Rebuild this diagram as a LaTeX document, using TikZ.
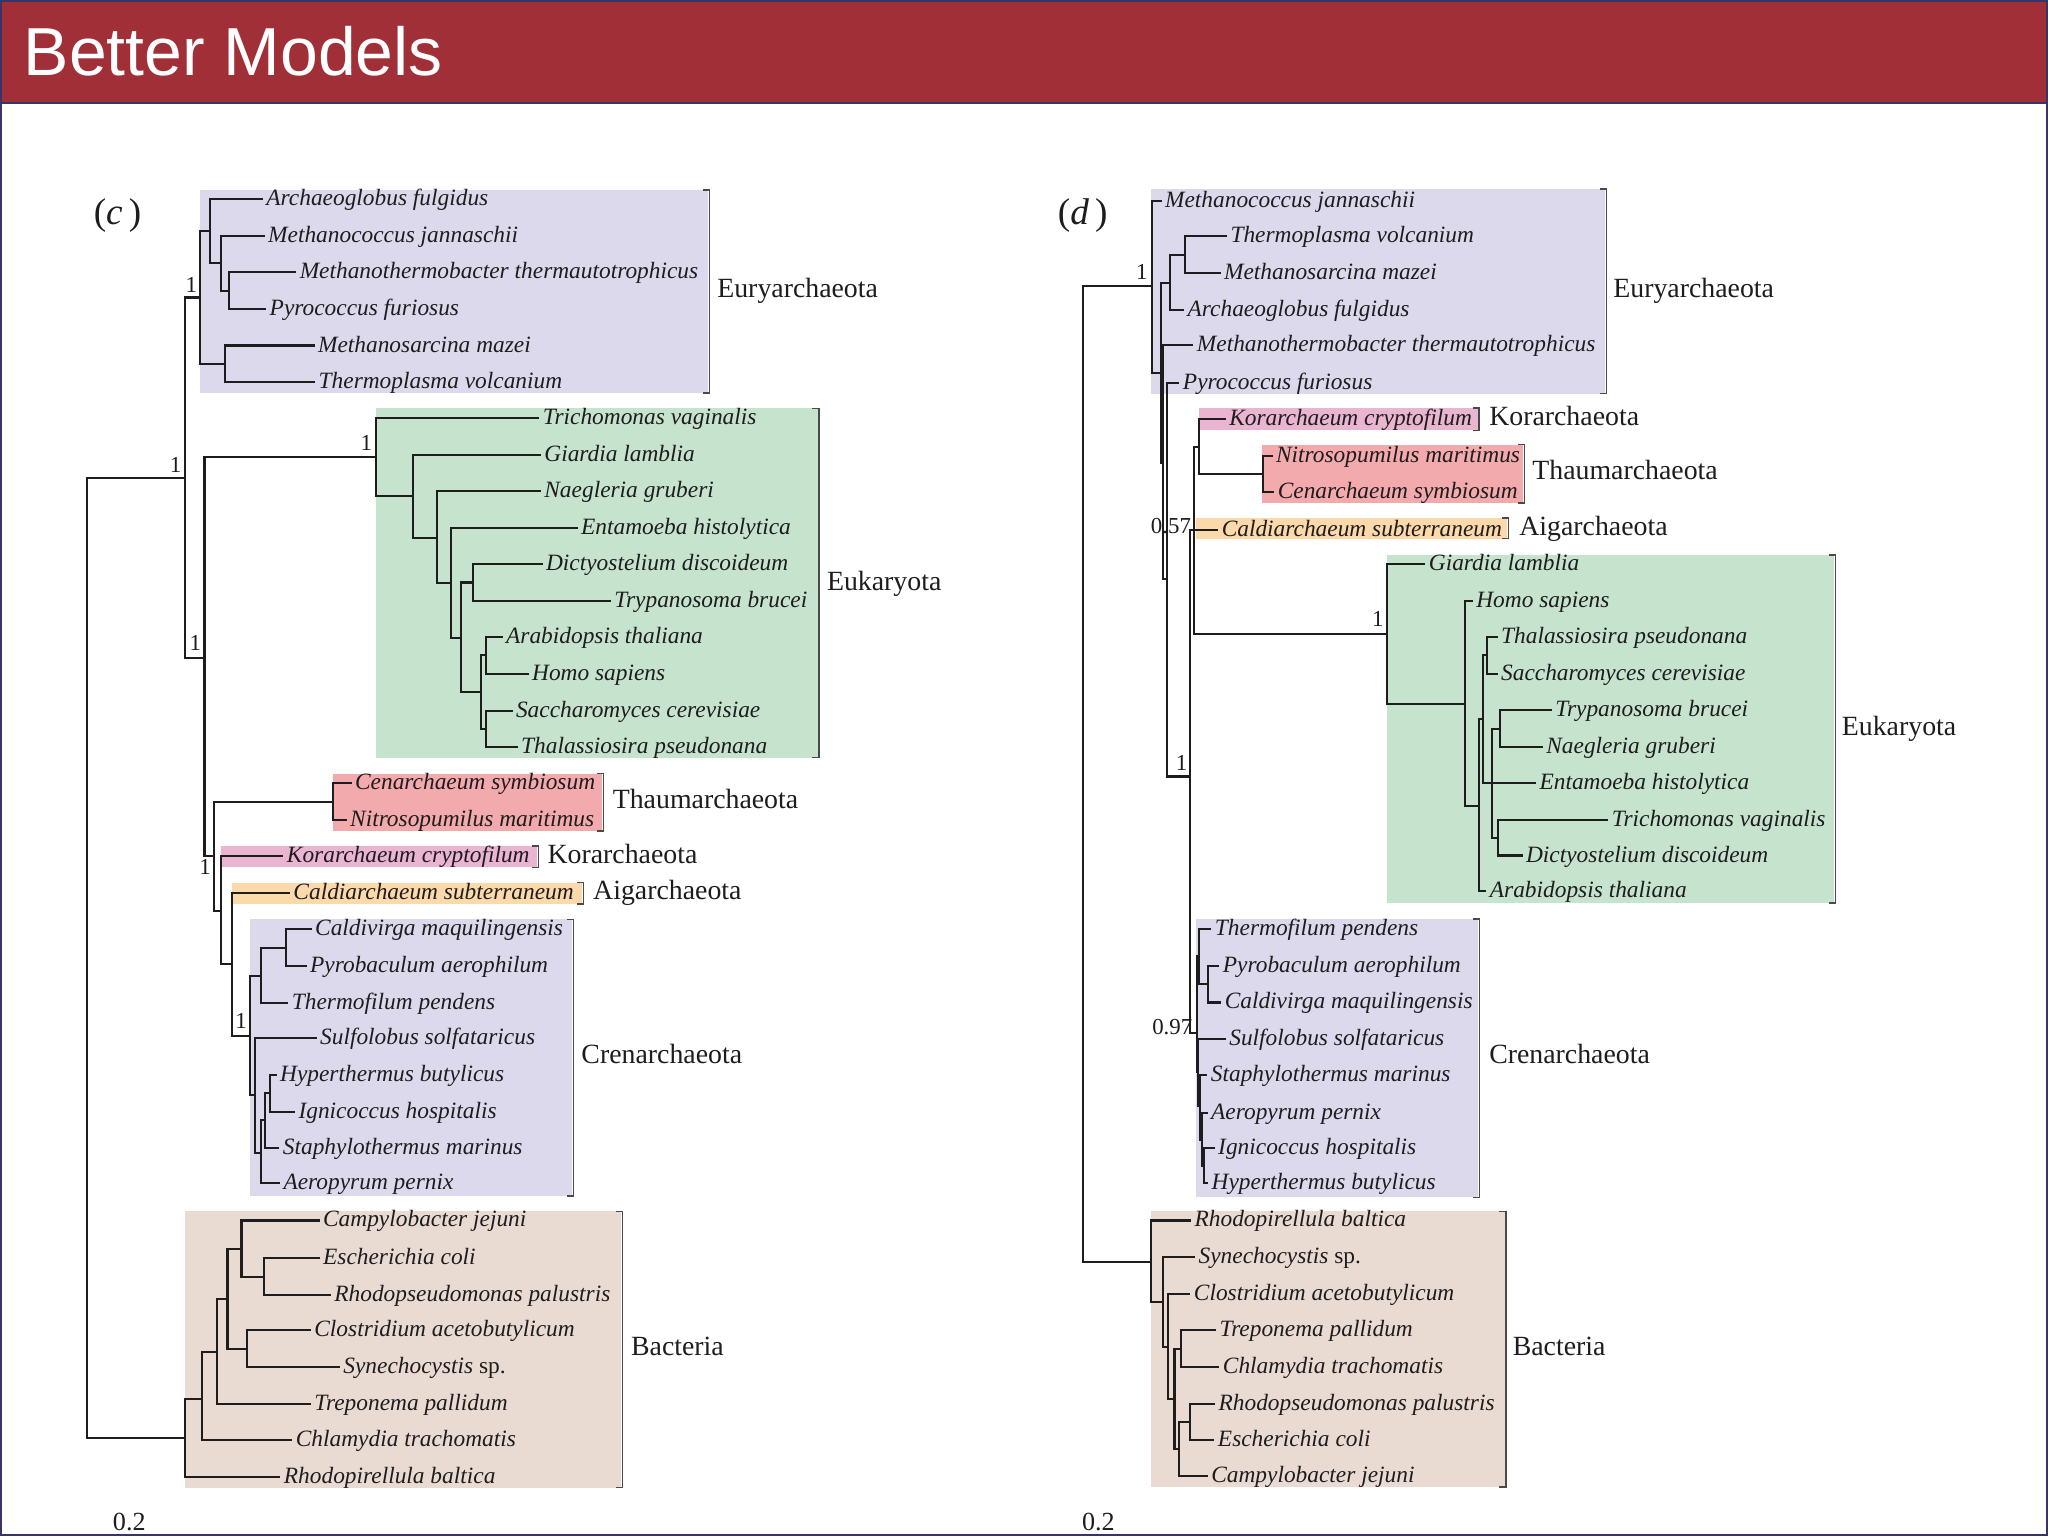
\documentclass[tikz,border=0pt]{standalone}
\usepackage{fontspec}
\setmainfont{Liberation Serif}
\newfontfamily\titlefont{Liberation Sans}
\definecolor{barred}{RGB}{161,47,56}
\definecolor{frame}{RGB}{55,52,105}
\definecolor{linec}{RGB}{30,28,29}
\definecolor{txt}{RGB}{30,28,30}
\definecolor{eury}{RGB}{221,217,236}
\definecolor{euk}{RGB}{197,227,205}
\definecolor{thaum}{RGB}{243,170,172}
\definecolor{kor}{RGB}{233,181,209}
\definecolor{aig}{RGB}{252,217,170}
\definecolor{bact}{RGB}{234,219,210}
\newcommand\spf{\fontsize{17.9}{20}\selectfont\itshape}
\newcommand\cladef{\fontsize{21.3}{24}\selectfont}
\newcommand\supf{\fontsize{17.5}{20}\selectfont}
\newcommand\leafat[4]{\coordinate (#1) at (#2,#3); \node[lab] (#1t) at (#1) {#4};}
\begin{document}
\begin{tikzpicture}[x=1pt,y=-1pt,
  br/.style={draw=linec,line width=1.6pt,line join=miter},
  lab/.style={anchor=base west,inner sep=0pt,xshift=2.5pt,yshift=-5pt,font=\spf,text=txt},
  clade/.style={anchor=base west,inner sep=0pt,yshift=-7pt,font=\cladef,text=txt},
  sup/.style={inner sep=0pt,font=\supf,text=txt},
  brk/.style={draw=linec!80,line width=1pt}]
\useasboundingbox (0,0) rectangle (1568,1176);
% title bar
\fill[barred] (0,0) rectangle (1568,79);
\draw[frame,line width=1.6pt] (0,79) -- (1568,79);
\node[anchor=base west,inner sep=0pt,text=white,font=\titlefont\fontsize{52}{60}\selectfont] (title) at (18,57.5) {Better Models};
\draw[frame,line width=1.6pt] (0.8,0.8) rectangle (1567.2,1175.2);

% ---------- boxes (left) ----------
\newcommand\cbox[5]{\fill[#1] (#2,#3) rectangle (#4-1,#5); \draw[brk] (#4-5,#3) -- (#4,#3) -- (#4,#5) -- (#4-5,#5);}
\cbox{eury}{152.8}{145.4}{543}{300.8}
\cbox{euk}{287.9}{312.6}{627}{580}
\cbox{thaum}{255.2}{592.2}{461.8}{636.3}
\cbox{kor}{169.2}{647.8}{412.1}{664.1}
\cbox{aig}{177.9}{675.8}{446.5}{692.2}
\cbox{eury}{191.4}{703.9}{438.9}{915.6}
\cbox{bact}{141.5}{927.5}{476.5}{1139}
% ---------- boxes (right) ----------
\cbox{eury}{881.2}{144.7}{1229.7}{301.3}
\cbox{kor}{918}{312.3}{1132.4}{329.4}
\cbox{thaum}{966.2}{340.4}{1167.3}{385}
\cbox{aig}{915.3}{396.5}{1155}{412.5}
\cbox{euk}{1061.8}{425}{1405.5}{691.4}
\cbox{eury}{915.7}{703.6}{1132.6}{916.6}
\cbox{bact}{881.3}{927.5}{1153}{1138.5}

% ---------- left tree (c) ----------
\node[inner sep=0pt,font=\fontsize{28.5}{32}\selectfont,text=txt] (pc) at (90,165) {(\textit{c}\,)};
\coordinate (L0) at (66.8,733.3);
\coordinate (LA) at (141.3,365.7);
\coordinate (LE) at (152.8,227.8);
\coordinate (LE1) at (161,177);
\coordinate (LE11) at (168.9,201.5);
\coordinate (LE111) at (175.3,222.5);
\coordinate (LE2) at (172,278.5);
\leafat{LArch}{201.3}{152.5}{Archaeoglobus fulgidus}
\leafat{LMjan}{202.6}{180.5}{Methanococcus jannaschii}
\leafat{LMthe}{226.8}{208.5}{Methanothermobacter thermautotrophicus}
\leafat{LPyro}{203.8}{236.5}{Pyrococcus furiosus}
\leafat{LMsar}{240.8}{264.5}{Methanosarcina mazei}
\leafat{LTvol}{241.3}{292.5}{Thermoplasma volcanium}
\coordinate (LB) at (156.6,503.7);
\coordinate (LK) at (287.9,350.0);
\coordinate (LK1) at (315.9,379.5);
\coordinate (LK2) at (334.5,411.6);
\coordinate (LK3) at (345.3,446.6);
\coordinate (LK4) at (352.9,488.2);
\coordinate (LK5) at (362.3,446);
\coordinate (LK6) at (368.2,530);
\coordinate (LK7) at (372,501.5);
\coordinate (LK8) at (372,557.9);
\leafat{LTri}{412.9}{320.3}{Trichomonas vaginalis}
\leafat{LGia}{414.1}{348.5}{Giardia lamblia}
\leafat{LNae}{414.1}{376}{Naegleria gruberi}
\leafat{LEnt}{442.2}{404}{Entamoeba histolytica}
\leafat{LDic}{415.4}{432}{Dictyostelium discoideum}
\leafat{LTry}{467.7}{460}{Trypanosoma brucei}
\leafat{LAra}{384.8}{487.5}{Arabidopsis thaliana}
\leafat{LHom}{404.7}{515.7}{Homo sapiens}
\leafat{LSac}{392.4}{544.3}{Saccharomyces cerevisiae}
\leafat{LTha}{396.3}{571.6}{Thalassiosira pseudonana}
\coordinate (LC) at (164.1,655.4);
\coordinate (LT) at (255.2,614.3);
\coordinate (LD) at (169.2,697.3);
\coordinate (LF) at (177.9,738.3);
\coordinate (LG) at (191.4,793.2);
\coordinate (LG1) at (199.6,747.3);
\coordinate (LG11) at (218.7,726.1);
\coordinate (LG2) at (195.3,838.3);
\coordinate (LG21) at (199.6,883.0);
\coordinate (LG211) at (202.9,857.5);
\coordinate (LG2111) at (206.7,836.5);
\leafat{LCen}{269.2}{599.3}{Cenarchaeum symbiosum}
\leafat{LNit}{265.4}{627.9}{Nitrosopumilus maritimus}
\leafat{LKor}{217.0}{655.4}{Korarchaeum cryptofilum}
\leafat{LCal}{222.0}{684.0}{Caldiarchaeum subterraneum}
\leafat{LCvi}{238.6}{711.5}{Caldivirga maquilingensis}
\leafat{LPba}{234.8}{739.6}{Pyrobaculum aerophilum}
\leafat{LTpe}{220.8}{767.7}{Thermofilum pendens}
\leafat{LSul}{242.4}{795.0}{Sulfolobus solfataricus}
\leafat{LHyp}{211.8}{823.0}{Hyperthermus butylicus}
\leafat{LIgn}{225.9}{851.1}{Ignicoccus hospitalis}
\leafat{LSta}{213.9}{879.1}{Staphylothermus marinus}
\leafat{LAer}{214.4}{905.9}{Aeropyrum pernix}
\coordinate (LQ) at (141.5,1100.9);
\coordinate (LQ1) at (154.9,1070.9);
\coordinate (LQ2) at (166.1,1035.2);
\coordinate (LQ3) at (174.2,994.4);
\coordinate (LQ4) at (184.9,956.1);
\coordinate (LQ41) at (201.8,977.8);
\coordinate (LQ5) at (188.9,1032.6);
\leafat{LCam}{244.7}{934.4}{Campylobacter jejuni}
\leafat{LEco}{244.7}{963.3}{Escherichia coli}
\leafat{LRps}{253.3}{991.3}{Rhodopseudomonas palustris}
\leafat{LClo}{238.0}{1018.6}{Clostridium acetobutylicum}
\leafat{LSyn}{260.2}{1046.7}{Synechocystis \upshape sp.}
\leafat{LTre}{238.0}{1074.7}{Treponema pallidum}
\leafat{LChl}{223.8}{1102.8}{Chlamydia trachomatis}
\leafat{LRba}{214.7}{1130.9}{Rhodopirellula baltica}

\foreach \a/\b in {L0/LA,L0/LQ,LA/LE,LA/LB,
  LE/LE1,LE/LE2,LE1/LArch,LE1/LE11,LE11/LMjan,LE11/LE111,LE111/LMthe,LE111/LPyro,LE2/LMsar,LE2/LTvol,
  LB/LK,LB/LC,
  LK/LTri,LK/LK1,LK1/LGia,LK1/LK2,LK2/LNae,LK2/LK3,LK3/LEnt,LK3/LK4,LK4/LK5,LK4/LK6,LK5/LDic,LK5/LTry,
  LK6/LK7,LK6/LK8,LK7/LAra,LK7/LHom,LK8/LSac,LK8/LTha,
  LC/LT,LC/LD,LT/LCen,LT/LNit,LD/LKor,LD/LF,LF/LCal,LF/LG,LG/LG1,LG/LG2,LG1/LG11,LG1/LTpe,LG11/LCvi,LG11/LPba,
  LG2/LSul,LG2/LG21,LG21/LG211,LG21/LAer,LG211/LG2111,LG211/LSta,LG2111/LHyp,LG2111/LIgn,
  LQ/LQ1,LQ/LRba,LQ1/LQ2,LQ1/LChl,LQ2/LQ3,LQ2/LTre,LQ3/LQ4,LQ3/LQ5,LQ4/LCam,LQ4/LQ41,LQ41/LEco,LQ41/LRps,LQ5/LClo,LQ5/LSyn}
  \draw[br] (\a) |- (\b);

\node[sup] (sL1) at (134.4,355.7) {1};
\node[sup] (sL2) at (146.4,217.8) {1};
\node[sup] (sL3) at (280.4,339.5) {1};
\node[sup] (sL4) at (149.5,492) {1};
\node[sup] (sL5) at (157,664) {1};
\node[sup] (sL6) at (184.5,782) {1};

\node[clade] (cL1) at (549,221) {Euryarchaeota};
\node[clade] (cL2) at (633,445) {Eukaryota};
\node[clade] (cL3) at (469,612) {Thaumarchaeota};
\node[clade] (cL4) at (419,654) {Korarchaeota};
\node[clade] (cL5) at (454,682) {Aigarchaeota};
\node[clade] (cL6) at (445,807) {Crenarchaeota};
\node[clade] (cL7) at (483,1031) {Bacteria};
\node[inner sep=0pt,font=\fontsize{20}{24}\selectfont,text=txt] (scL) at (99,1165) {0.2};

% ---------- right tree (d) ----------
\node[inner sep=0pt,font=\fontsize{28.5}{32}\selectfont,text=txt] (pd) at (829,165) {(\textit{d}\,)};
\coordinate (R0) at (829.3,592.9);
\coordinate (RN1) at (881.8,219.2);
\coordinate (RN2) at (889.0,285.3);
\coordinate (RTMA) at (895.9,216.5);
\coordinate (RTM) at (907.3,195.3);
\coordinate (RN3) at (890.7,354.7);
\coordinate (RN4) at (893.8,443.5);
\coordinate (RN5) at (911.1,594.5);
\coordinate (RN6) at (914.2,405.5);
\coordinate (RKT) at (918.0,342.0);
\coordinate (RTh) at (967.0,362.9);
\leafat{RMjan}{889.3}{154.1}{Methanococcus jannaschii}
\leafat{RTvol}{939.4}{180.4}{Thermoplasma volcanium}
\leafat{RMsar}{934.5}{209.3}{Methanosarcina mazei}
\leafat{RArch}{906.6}{237.4}{Archaeoglobus fulgidus}
\leafat{RMthe}{913.7}{264.2}{Methanothermobacter thermautotrophicus}
\leafat{RPyro}{903.0}{293.5}{Pyrococcus furiosus}
\leafat{RKor}{938.5}{320.7}{Korarchaeum cryptofilum}
\leafat{RNit}{974.3}{348.8}{Nitrosopumilus maritimus}
\leafat{RCen}{975.6}{376.8}{Cenarchaeum symbiosum}
\leafat{RCal}{932.7}{405.5}{Caldiarchaeum subterraneum}
\coordinate (RK) at (1061.8,485.6);
\coordinate (RK1) at (1121.7,538.7);
\coordinate (RK2) at (1132.1,616.8);
\coordinate (RK3) at (1135.5,550.7);
\coordinate (RK4) at (1138.3,501.8);
\coordinate (RK5) at (1142.5,599.8);
\coordinate (RK6) at (1148.4,557.8);
\coordinate (RK7) at (1146.6,641.3);
\leafat{RGia}{1091.3}{431.9}{Giardia lamblia}
\leafat{RHom}{1127.6}{459.8}{Homo sapiens}
\leafat{RTha}{1146.6}{487.8}{Thalassiosira pseudonana}
\leafat{RSac}{1146.6}{515.8}{Saccharomyces cerevisiae}
\leafat{RTry}{1188.1}{543.8}{Trypanosoma brucei}
\leafat{RNae}{1181.2}{571.8}{Naegleria gruberi}
\leafat{REnt}{1176.0}{599.8}{Entamoeba histolytica}
\leafat{RTri}{1231.4}{627.8}{Trichomonas vaginalis}
\leafat{RDic}{1165.7}{655.0}{Dictyostelium discoideum}
\leafat{RAra}{1138.0}{682.5}{Arabidopsis thaliana}
\coordinate (RC) at (916.2,791.1);
\coordinate (RCA) at (918.3,732.0);
\coordinate (RCP) at (925.2,753.5);
\coordinate (RCB) at (917.5,821.0);
\coordinate (RCS) at (918.8,847.0);
\coordinate (RCAI) at (920.0,872.5);
\coordinate (RCIH) at (921.6,893.0);
\leafat{RTpe}{927.5}{711.5}{Thermofilum pendens}
\leafat{RPba}{933.6}{739.7}{Pyrobaculum aerophilum}
\leafat{RCvi}{935.0}{767.5}{Caldivirga maquilingensis}
\leafat{RSul}{938.5}{795.3}{Sulfolobus solfataricus}
\leafat{RSta}{924.4}{822.7}{Staphylothermus marinus}
\leafat{RAer}{924.6}{852.4}{Aeropyrum pernix}
\leafat{RIgn}{930.0}{878.7}{Ignicoccus hospitalis}
\leafat{RHyp}{925.0}{906.0}{Hyperthermus butylicus}
\coordinate (RB) at (881.3,966.5);
\coordinate (RB1) at (890.3,996.9);
\coordinate (RB2) at (894.1,1031.4);
\coordinate (RB3) at (899.2,1071.4);
\coordinate (RB4) at (904.3,1032.6);
\coordinate (RB5) at (903.0,1109.7);
\coordinate (RB6) at (911.4,1088.8);
\leafat{RRba}{911.9}{934.4}{Rhodopirellula baltica}
\leafat{RSyn}{915.0}{962.5}{Synechocystis \upshape sp.}
\leafat{RClo}{911.4}{990.6}{Clostridium acetobutylicum}
\leafat{RTre}{931.0}{1018.6}{Treponema pallidum}
\leafat{RChl}{933.6}{1046.7}{Chlamydia trachomatis}
\leafat{RRps}{930.3}{1074.7}{Rhodopseudomonas palustris}
\leafat{REco}{929.8}{1102.8}{Escherichia coli}
\leafat{RCam}{924.7}{1130.1}{Campylobacter jejuni}

\foreach \a/\b in {R0/RN1,R0/RB,
  RN1/RMjan,RN1/RN2,RN2/RTMA,RN2/RN3,RTMA/RTM,RTMA/RArch,RTM/RTvol,RTM/RMsar,RN3/RMthe,RN3/RN4,RN4/RPyro,RN4/RN5,
  RN5/RN6,RN5/RC,RN6/RKT,RN6/RCal,RN6/RK,RKT/RKor,RKT/RTh,RTh/RNit,RTh/RCen,
  RK/RGia,RK/RK1,RK1/RHom,RK1/RK2,RK2/RK3,RK2/RAra,RK3/RK4,RK3/RK5,RK4/RTha,RK4/RSac,RK5/RK6,RK5/REnt,RK5/RK7,
  RK6/RTry,RK6/RNae,RK7/RTri,RK7/RDic,
  RC/RCA,RC/RCB,RCA/RTpe,RCA/RCP,RCP/RPba,RCP/RCvi,RCB/RSul,RCB/RCS,RCS/RSta,RCS/RCAI,RCAI/RAer,RCAI/RCIH,RCIH/RIgn,RCIH/RHyp,
  RB/RRba,RB/RB1,RB1/RSyn,RB1/RB2,RB2/RClo,RB2/RB3,RB3/RB4,RB3/RB5,RB4/RTre,RB4/RChl,RB5/RB6,RB5/RCam,RB6/RRps,RB6/REco}
  \draw[br] (\a) |- (\b);

\node[sup] (sR1) at (874.3,208.3) {1};
\node[sup] (sR2) at (896.5,402.5) {0.57};
\node[sup] (sR3) at (904.6,584) {1};
\node[sup] (sR4) at (1054.9,474) {1};
\node[sup] (sR5) at (897.5,786) {0.97};

\node[clade] (cR1) at (1235,221) {Euryarchaeota};
\node[clade] (cR2) at (1140,319) {Korarchaeota};
\node[clade] (cR3) at (1173,360) {Thaumarchaeota};
\node[clade] (cR4) at (1163,403) {Aigarchaeota};
\node[clade] (cR5) at (1410,556) {Eukaryota};
\node[clade] (cR6) at (1140,807) {Crenarchaeota};
\node[clade] (cR7) at (1158,1031) {Bacteria};
\node[inner sep=0pt,font=\fontsize{20}{24}\selectfont,text=txt] (scR) at (841,1165) {0.2};
\end{tikzpicture}
\end{document}
